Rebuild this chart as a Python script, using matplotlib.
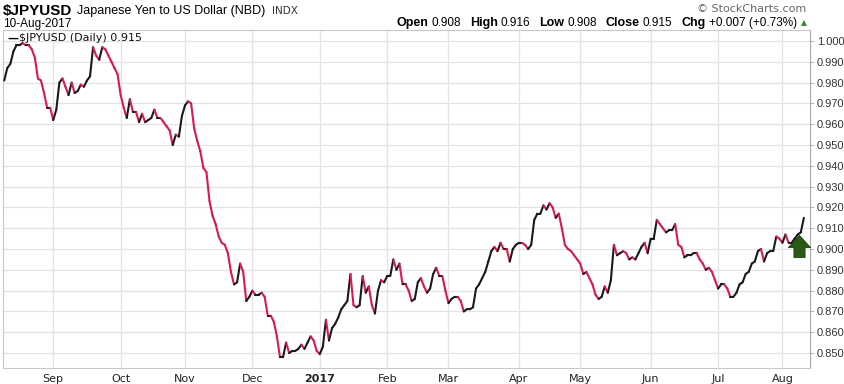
"""
$JPYUSD daily close, Aug 2016 - Aug 2017, StockCharts style.
"""

import numpy as np
import pandas as pd
import matplotlib
matplotlib.use('Agg')
import matplotlib.pyplot as plt
from matplotlib.collections import LineCollection
from matplotlib.path import Path

# daily closes, one per weekday from 10-Aug-2016
closes = [
    0.981, 0.987, 0.989, 0.995, 0.998, 0.998, 0.999, 0.998, 0.998, 0.996,
    0.992, 0.982, 0.981, 0.975, 0.968, 0.968, 0.962, 0.967, 0.980, 0.982,
    0.978, 0.974, 0.980, 0.975, 0.976, 0.979, 0.978, 0.981, 0.983, 0.997,
    0.993, 0.991, 0.997, 0.996, 0.993, 0.990, 0.987, 0.984, 0.974, 0.968,
    0.963, 0.972, 0.966, 0.966, 0.961, 0.965, 0.961, 0.962, 0.963, 0.967,
    0.963, 0.963, 0.961, 0.959, 0.957, 0.950, 0.955, 0.954, 0.964, 0.969,
    0.971, 0.970, 0.958, 0.952, 0.947, 0.939, 0.937, 0.923, 0.916, 0.912,
    0.906, 0.903, 0.902, 0.898, 0.889, 0.883, 0.884, 0.893, 0.889, 0.875,
    0.877, 0.880, 0.878, 0.878, 0.879, 0.877, 0.868, 0.868, 0.865, 0.858,
    0.848, 0.848, 0.855, 0.850, 0.851, 0.851, 0.852, 0.854, 0.852, 0.855,
    0.858, 0.856, 0.851, 0.8495, 0.853, 0.866, 0.856, 0.862, 0.864, 0.867,
    0.871, 0.873, 0.875, 0.888, 0.873, 0.872, 0.873, 0.887, 0.879, 0.882,
    0.873, 0.869, 0.880, 0.885, 0.884, 0.887, 0.887, 0.895, 0.890, 0.893,
    0.883, 0.883, 0.880, 0.875, 0.876, 0.884, 0.886, 0.882, 0.879, 0.881,
    0.888, 0.891, 0.887, 0.887, 0.880, 0.874, 0.876, 0.877, 0.877, 0.875,
    0.870, 0.871, 0.871, 0.872, 0.881, 0.883, 0.886, 0.889, 0.894, 0.899,
    0.901, 0.899, 0.903, 0.900, 0.900, 0.894, 0.900, 0.902, 0.903, 0.903,
    0.902, 0.900, 0.902, 0.914, 0.917, 0.917, 0.921, 0.919, 0.922, 0.920,
    0.915, 0.917, 0.910, 0.902, 0.900, 0.899, 0.897, 0.895, 0.893, 0.888,
    0.889, 0.886, 0.883, 0.878, 0.876, 0.877, 0.882, 0.879, 0.885, 0.902,
    0.897, 0.898, 0.899, 0.898, 0.895, 0.896, 0.895, 0.898, 0.901, 0.903,
    0.898, 0.905, 0.905, 0.914, 0.912, 0.910, 0.908, 0.909, 0.909, 0.912,
    0.902, 0.901, 0.896, 0.897, 0.897, 0.898, 0.898, 0.895, 0.893, 0.890,
    0.891, 0.889, 0.885, 0.881, 0.883, 0.883, 0.881, 0.877, 0.877, 0.879,
    0.883, 0.884, 0.888, 0.889, 0.893, 0.894, 0.899, 0.900, 0.894, 0.898,
    0.899, 0.899, 0.906, 0.905, 0.903, 0.907, 0.903, 0.903, 0.905, 0.907,
    0.908, 0.915,
]
dates = pd.bdate_range("2016-08-10", periods=len(closes))

month_labels = ["Sep", "Oct", "Nov", "Dec", "2017", "Feb", "Mar", "Apr",
                "May", "Jun", "Jul", "Aug"]
y_ticks = [0.850, 0.860, 0.870, 0.880, 0.890, 0.900, 0.910, 0.920, 0.930,
           0.940, 0.950, 0.960, 0.970, 0.980, 0.990, 1.000]

title_sym = "$JPYUSD"
title_name = "Japanese Yen to US Dollar (NBD)"
last_date = "10-Aug-2017"
ohlc = [("Open", "0.908"), ("High", "0.916"), ("Low", "0.908"),
        ("Close", "0.915"), ("Chg", "+0.007 (+0.73%)")]

UP = '#1a1a1a'
DOWN = '#e0174a'
GRID = '#e3e3e3'
W, H = 845, 384

fig = plt.figure(figsize=(W / 100, H / 100), dpi=100)
ax = fig.add_axes([3 / W, 16 / H, 807 / W, 338 / H])
r = fig.canvas.get_renderer()

x = np.arange(len(closes))
y = np.array(closes)
pts = np.column_stack([x, y])
segs = np.stack([pts[:-1], pts[1:]], axis=1)
cols = [UP if d >= 0 else DOWN for d in np.diff(y)]
lc = LineCollection(segs, colors=cols, linewidths=1.5, capstyle='round',
                    joinstyle='round', zorder=3)
ax.add_collection(lc)

ax.set_xlim(-0.4, len(closes) + 1.0)
ax.set_ylim(0.8428, 1.0053)

# month gridlines at the first weekday of each month
month_pos = []
for i in range(1, len(dates)):
    if dates[i].month != dates[i - 1].month:
        month_pos.append(i)
ax.set_xticks(month_pos)
ax.set_xticklabels(month_labels, fontsize=8, family='DejaVu Sans')
for lab in ax.get_xticklabels():
    if lab.get_text() == "2017":
        lab.set_fontweight('bold')
ax.tick_params(axis='x', length=0, pad=4, colors='#222222')

ax.yaxis.tick_right()
ax.set_yticks(y_ticks)
ax.set_yticklabels([f"{v:.3f}" for v in y_ticks], fontsize=8,
                   family='Liberation Sans')
ax.tick_params(axis='y', length=3, width=0.6, color='#aaaaaa', pad=2,
               labelcolor='#333333')

ax.grid(True, color=GRID, linewidth=0.9, zorder=0)
for s in ['top', 'left', 'bottom']:
    ax.spines[s].set_color('#c8c8c8')
    ax.spines[s].set_linewidth(0.8)
ax.spines['right'].set_color('#aaaaaa')
ax.spines['right'].set_linestyle((0, (1, 1)))
ax.spines['right'].set_linewidth(0.8)

# green up arrow next to the last close
arrow = Path([(-0.5, -1.0), (0.5, -1.0), (0.5, -0.1), (1.0, -0.1), (0.0, 1.0),
              (-1.0, -0.1), (-0.5, -0.1), (-0.5, -1.0)],
             [Path.MOVETO] + [Path.LINETO] * 6 + [Path.CLOSEPOLY])
ax.plot(x[-1] - 1.5, y[-1] - 0.0135, marker=arrow, markersize=16,
        color='#2a5a16', markeredgecolor='#1c3f0e', markeredgewidth=0.6,
        zorder=4)

# legend
ax.text(0.006, 0.975, "\u2014", transform=ax.transAxes, fontsize=8,
        fontweight='bold', va='center', ha='left', color='black')
ax.text(0.020, 0.975, f"{title_sym} (Daily) {closes[-1]:.3f}",
        transform=ax.transAxes, fontsize=8, va='center', ha='left',
        family='DejaVu Sans', color='#111111')

# header
t = fig.text(3 / W, 1 - 11 / H, title_sym, fontsize=11, fontweight='bold',
             family='Liberation Sans', va='center', ha='left')
xl = 3 + t.get_window_extent(r).width + 5
t = fig.text(xl / W, 1 - 11 / H, title_name, fontsize=9,
             family='Liberation Sans', va='center', ha='left')
xl += t.get_window_extent(r).width + 6
fig.text(xl / W, 1 - 11 / H, "INDX", fontsize=7.5,
         family='DejaVu Sans', va='center', ha='left', color='#333333')
fig.text(3 / W, 1 - 24 / H, last_date, fontsize=8.5,
         family='Liberation Sans', va='center', ha='left')
fig.text(806 / W, 1 - 9 / H, "\u00a9 StockCharts.com", fontsize=8,
         family='DejaVu Sans', va='center', ha='right', color='#666666')

# OHLC line, drawn right to left
xr = 797
fig.text(807 / W, 1 - 23 / H, "\u25b2", fontsize=5.5, color='#2e8b2e',
         va='center', ha='right')
for label, val in reversed(ohlc):
    t = fig.text(xr / W, 1 - 23 / H, val, fontsize=8.5,
                 family='Liberation Sans', va='center', ha='right')
    xr -= t.get_window_extent(r).width + 3
    t = fig.text(xr / W, 1 - 23 / H, label, fontsize=9, fontweight='bold',
                 family='Liberation Sans', va='center', ha='right')
    xr -= t.get_window_extent(r).width + 9

fig.savefig("out.png", dpi=100)
